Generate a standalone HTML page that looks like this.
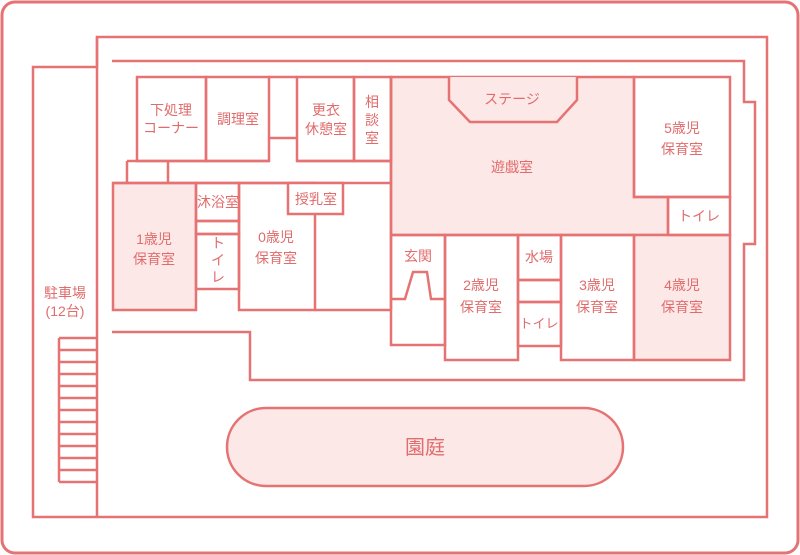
<!DOCTYPE html>
<html><head><meta charset="utf-8"><style>
html,body{margin:0;padding:0;background:#fff;}
svg{display:block;}
text{font-family:"Liberation Sans","Noto Sans CJK JP",sans-serif;fill:#e06c6c;font-size:14px;text-anchor:middle;}
</style></head><body>
<svg width="800" height="555" viewBox="0 0 800 555" xmlns="http://www.w3.org/2000/svg">
<g fill="none" stroke="#e57373" stroke-width="2.5">
<rect x="2" y="2" width="796" height="551" rx="13" stroke-width="3"/>
<path d="M33 67 H97 V37 H767 V517 H33 Z"/>
<path d="M97 37 V517"/>
<path d="M112 61 H744 V102 H755 V244 H744 V380 H250 V332 H112"/>
<!-- parking -->
<path d="M59 338 V482 M59 338 H97 M59 350 H97 M59 362 H97 M59 374 H97 M59 386 H97 M59 398 H97 M59 410 H97 M59 422 H97 M59 434 H97 M59 446 H97 M59 458 H97 M59 470 H97 M59 482 H97"/>
<!-- pink areas -->
<rect x="113" y="183" width="83" height="127" fill="#fde8e8"/>
<path d="M391 77 H634 V197 H668 V235 H391 Z" fill="#fde8e8"/>
<rect x="634" y="235" width="96" height="125" fill="#fde8e8"/>
<path d="M449 77 V100 L470 122 H557 L577 100 V77" fill="#fde8e8"/>
<!-- top rooms -->
<rect x="137" y="77" width="69" height="84"/>
<rect x="206" y="77" width="63" height="84"/>
<path d="M269 77 H297 M269 138 H297"/>
<rect x="297" y="77" width="57" height="84"/>
<rect x="354" y="77" width="37" height="84"/>
<path d="M297 161 H391 M127 161 H269 M127 161 V183 M168 161 V183 M113 183 H391"/>
<!-- left rooms -->
<rect x="196" y="183" width="43" height="38"/>
<rect x="196" y="221" width="43" height="13"/>
<rect x="196" y="234" width="43" height="55"/>
<rect x="239" y="183" width="76" height="127"/>
<rect x="288" y="183" width="55" height="31" fill="#fff"/>
<path d="M315 310 H391"/>
<!-- right rooms -->
<rect x="634" y="77" width="96" height="120"/>
<rect x="668" y="197" width="62" height="38"/>
<rect x="561" y="235" width="73" height="125"/>
<rect x="518" y="235" width="43" height="45"/>
<rect x="518" y="280" width="43" height="22"/>
<rect x="518" y="302" width="43" height="44"/>
<rect x="445" y="235" width="73" height="125"/>
<rect x="391" y="235" width="54" height="110"/>
<path d="M391 299 H405 L413 272 H427 L431 299 H445"/>
<line x1="391" y1="77" x2="391" y2="310"/>
<!-- courtyard -->
<rect x="227" y="408" width="396" height="78" rx="39" fill="#fde8e8"/>
</g>
<text x="171" y="115">下処理</text>
<text x="171" y="133">コーナー</text>
<text x="238" y="124">調理室</text>
<text x="326" y="115">更衣</text>
<text x="326" y="134">休憩室</text>
<text x="372" y="107">相</text>
<text x="372" y="125">談</text>
<text x="372" y="143">室</text>
<text x="512" y="104">ステージ</text>
<text x="512" y="172">遊戯室</text>
<text x="682" y="133">5歳児</text>
<text x="682" y="154">保育室</text>
<text x="699" y="221">トイレ</text>
<text x="154" y="244">1歳児</text>
<text x="154" y="264">保育室</text>
<text x="218" y="207">沐浴室</text>
<text x="218" y="248">ト</text>
<text x="218" y="265">イ</text>
<text x="218" y="282">レ</text>
<text x="276" y="242">0歳児</text>
<text x="276" y="263">保育室</text>
<text x="316" y="204">授乳室</text>
<text x="418" y="261">玄関</text>
<text x="481" y="290">2歳児</text>
<text x="481" y="312">保育室</text>
<text x="539" y="262">水場</text>
<text x="539" y="328" style="font-size:13px">トイレ</text>
<text x="597" y="290">3歳児</text>
<text x="597" y="312">保育室</text>
<text x="682" y="290">4歳児</text>
<text x="682" y="312">保育室</text>
<text x="65" y="298">駐車場</text>
<text x="65" y="316">(12台)</text>
<text x="425" y="454" style="font-size:20px">園庭</text>
</svg>
</body></html>
